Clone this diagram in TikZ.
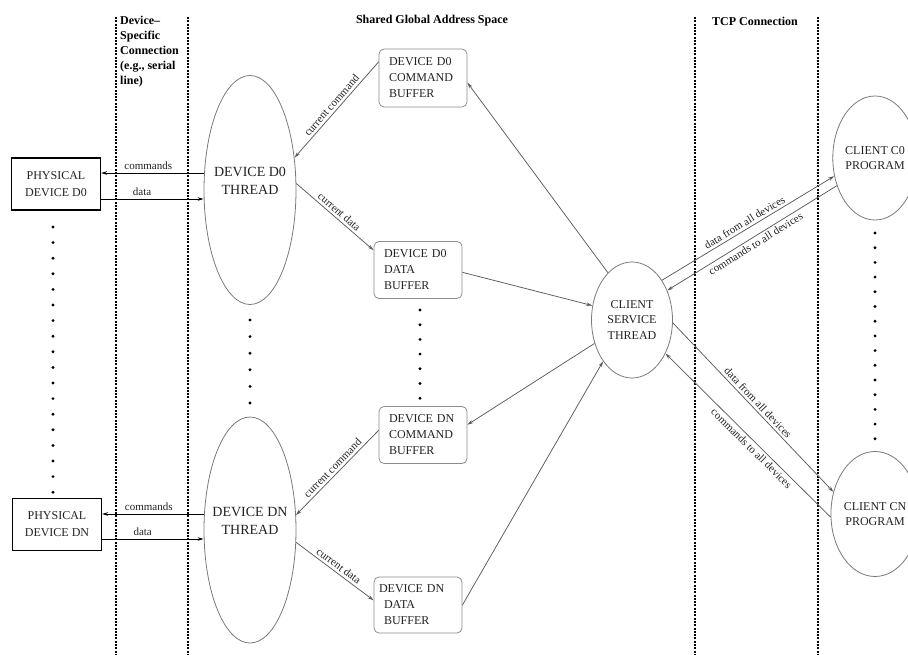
\documentclass[tikz,border=0pt]{standalone}
\usepackage{fontspec}
\setmainfont{Liberation Serif}
\usetikzlibrary{arrows.meta,shapes.geometric}

\definecolor{inkgray}{HTML}{222222}
\definecolor{edgegray}{HTML}{7A7A7A}
\definecolor{boxgray}{HTML}{8C8C8C}
\definecolor{linkgray}{HTML}{5A5A5A}

\begin{document}
\begin{tikzpicture}[x=1pt,y=-1pt,
  every node/.style={font=\fontsize{12}{16}\selectfont, inner sep=0pt, text=inkgray},
  thread/.style={ellipse, draw=edgegray, line width=0.8pt},
  threadtext/.style={align=center, font=\fontsize{14}{18}\selectfont},
  clienttext/.style={align=center, font=\fontsize{12}{15.5}\selectfont},
  buffer/.style={rectangle, rounded corners=5pt, draw=boxgray, line width=0.8pt,
    align=left, minimum width=88pt, minimum height=58pt, text width=68pt},
  physical/.style={rectangle, draw=black, line width=1.1pt, align=center,
    minimum width=89pt, minimum height=52pt, font=\fontsize{12}{17}\selectfont},
  separator/.style={line width=1.1pt, dash pattern=on 2pt off 1.3pt},
  header/.style={font=\fontsize{12}{15}\selectfont\bfseries, text=black},
  link/.style={draw=linkgray, line width=0.75pt, -{Stealth[length=6pt,width=3.5pt]}},
  wire/.style={draw=black, line width=0.9pt, -{Stealth[length=6pt,width=3.5pt]}},
  lbl/.style={font=\fontsize{11}{12}\selectfont, inner sep=2.5pt},
  vdot/.style={fill=black}
]

\useasboundingbox (0,0) rectangle (908,655);

% column separators
\draw[separator] (116,17) -- (116,655);
\draw[separator] (188,17) -- (188,655);
\draw[separator] (695,17) -- (695,655);
\draw[separator] (818,17) -- (818,655);

% column headers
\node[header, anchor=north west, align=left] (hdev) at (120,16)
  {Device--\\Specific\\Connection\\(e.g., serial\\line)};
\node[header] (hshared) at (432,21) {Shared Global Address Space};
\node[header] (htcp) at (755,21) {TCP Connection};

% physical devices
\node[physical] (pd0) at (56,184) {PHYSICAL\\DEVICE D0};
\node[physical] (pdn) at (57,524.5) {PHYSICAL\\DEVICE DN};

% device threads
\node[thread, minimum width=92pt, minimum height=229pt,
  label={[threadtext, yshift=9pt]center:{DEVICE D0\\THREAD}}] (d0t) at (250,190) {};
\node[thread, minimum width=92pt, minimum height=226pt,
  label={[threadtext, yshift=9pt]center:{DEVICE DN\\THREAD}}] (dnt) at (250,530) {};

% buffers in the shared address space
\node[buffer] (c0b) at (423,78) {DEVICE D0\\COMMAND\\BUFFER};
\node[buffer, minimum height=57pt] (d0b) at (418,270) {DEVICE D0\\DATA\\BUFFER};
\node[buffer, minimum height=57pt] (cnb) at (423,435) {DEVICE DN\\COMMAND\\BUFFER};
\node[buffer, minimum height=56pt, text width=78pt] (dnb) at (418,605)
  {DEVICE DN\\\hspace*{5pt}DATA\\\hspace*{5pt}BUFFER};

% client service thread and client programs
\node[thread, minimum width=81pt, minimum height=116pt, clienttext] (cst) at (632,320)
  {CLIENT\\SERVICE\\THREAD};
\node[thread, minimum width=80pt, minimum height=124pt, clienttext] (c0) at (875,158)
  {CLIENT C0\\PROGRAM};
\node[thread, minimum width=80pt, minimum height=125pt, clienttext] (cn) at (875,514)
  {CLIENT CN\\PROGRAM};

% ellipsis dots
\foreach \i in {0,...,17} \fill[vdot] (53,227+\i*15.6) circle (1.6pt);
\foreach \i in {0,...,5} \fill[vdot] (250,320+\i*16.6) circle (1.6pt);
\foreach \i in {0,...,6} \fill[vdot] (420,310+\i*14.7) circle (1.6pt);
\foreach \i in {0,...,14} \fill[vdot] (875,233+\i*14.7) circle (1.6pt);

% device-specific connections
\draw[wire] ([yshift=17pt]d0t.west) -- node[lbl, above, pos=0.54] {commands} ([yshift=11pt]pd0.east);
\draw[wire] ([yshift=-15pt]pd0.east) -- node[lbl, above, pos=0.4] {data} ([yshift=-9pt]d0t.west);
\draw[wire] ([yshift=16pt]dnt.west) -- node[lbl, above, pos=0.54] {commands} ([yshift=10.5pt]pdn.east);
\draw[wire] ([yshift=-14.5pt]pdn.east) -- node[lbl, above, pos=0.4] {data} ([yshift=-9pt]dnt.west);

% threads and buffers
\draw[link] (c0b.160) -- node[lbl, sloped, above] {current command} (d0t.36);
\draw[link] (d0t.8) -- node[lbl, sloped, above] {current data} (d0b.156);
\draw[link] (cnb.174) -- node[lbl, sloped, above] {current command} (dnt.18);
\draw[link] (dnt.-15) -- node[lbl, sloped, above] {current data} (dnb.174);

% buffers and client service thread
\draw[link] (cst.117) -- (c0b.-6);
\draw[link] (d0b.-3) -- (cst.160);
\draw[link] (cst.212) -- (cnb.13);
\draw[link] (dnb.east) -- (cst.235);

% TCP connections
\draw[link] (cst.53) -- node[lbl, sloped, above, pos=0.5] {data from all devices} (c0.204);
\draw[link] (c0.216) -- node[lbl, sloped, below, pos=0.5] {commands to all devices} (cst.40);
\draw[link] (cst.-4) -- node[lbl, sloped, above, pos=0.5] {data from all devices} (cn.152);
\draw[link] (cn.184) -- node[lbl, sloped, below, pos=0.45] {commands to all devices} (cst.-45);

\end{tikzpicture}
\end{document}
